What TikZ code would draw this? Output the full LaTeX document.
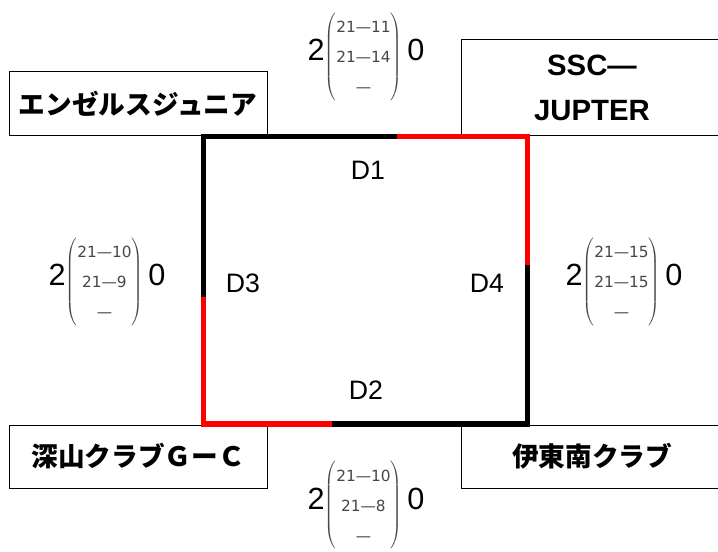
\documentclass[tikz,border=0pt]{standalone}
\usepackage{fontspec}
\setmainfont{Liberation Sans}
\newfontfamily\jpfont{Noto Sans CJK JP Black}
\newfontfamily\scorefont{DejaVu Sans}
\definecolor{scoregray}{RGB}{70,70,70}
\newcommand{\scoreblock}[2]{%
  \fontsize{23}{24}\selectfont 2%
  {\scorefont\fontsize{11.5}{22.5}\selectfont\color{scoregray}%
   $\left(\begin{array}{@{}c@{}}\mbox{#1}\\\mbox{#2}\\\mbox{—}\end{array}\right)$}%
  \,0}
\tikzset{
  team/.style={draw, line width=0.75pt, inner sep=0pt, font=\jpfont\fontsize{20}{24}\selectfont},
  dlabel/.style={font=\fontsize{20}{22}\selectfont},
  lose/.style={line width=3.75pt, black},
  win/.style={line width=3.75pt, red}
}
\begin{document}
\begin{tikzpicture}[x=0.75pt, y=-0.75pt]
\useasboundingbox (0,0) rectangle (718,552);
% Manual node positions
\node[team, minimum width=258*0.75pt, minimum height=64*0.75pt] (ANG) at (138,104) {エンゼルスジュニア};
\node[team, minimum width=261*0.75pt, minimum height=96*0.75pt, align=center,
  font=\bfseries\fontsize{22}{34}\selectfont] (SSC) at (592,88) {SSC—\\JUPTER};
\node[team, minimum width=258*0.75pt, minimum height=63*0.75pt] (FKY) at (138,456.5) {深山クラブＧーＣ};
\node[team, minimum width=261*0.75pt, minimum height=63*0.75pt] (ITO) at (592,456.5) {伊東南クラブ};

\coordinate (TL) at (203,137);
\coordinate (TR) at (527,137);
\coordinate (BR) at (527,424);
\coordinate (BL) at (203,424);
\coordinate (T1) at (397,137);
\coordinate (R1) at (527,265);
\coordinate (L1) at (203,297);
\coordinate (B1) at (332,424);

\node[dlabel] (D1) at (368,170) {D1};
\node[dlabel] (D2) at (366,390) {D2};
\node[dlabel] (D3) at (243,283) {D3};
\node[dlabel] (D4) at (487,283) {D4};

\node (S1) at (366,57) {\scoreblock{21—11}{21—14}};
\node (S3) at (107,282) {\scoreblock{21—10}{21—9}};
\node (S4) at (624,282) {\scoreblock{21—15}{21—15}};
\node (S2) at (366,505) {\scoreblock{21—10}{21—8}};

% Connections
\draw[lose] (L1) -- (TL) -- (T1);
\draw[win] (T1) -- (TR) -- (R1);
\draw[win] (L1) -- (BL) -- (B1);
\draw[lose] (B1) -- (BR) -- (R1);
\end{tikzpicture}
\end{document}
